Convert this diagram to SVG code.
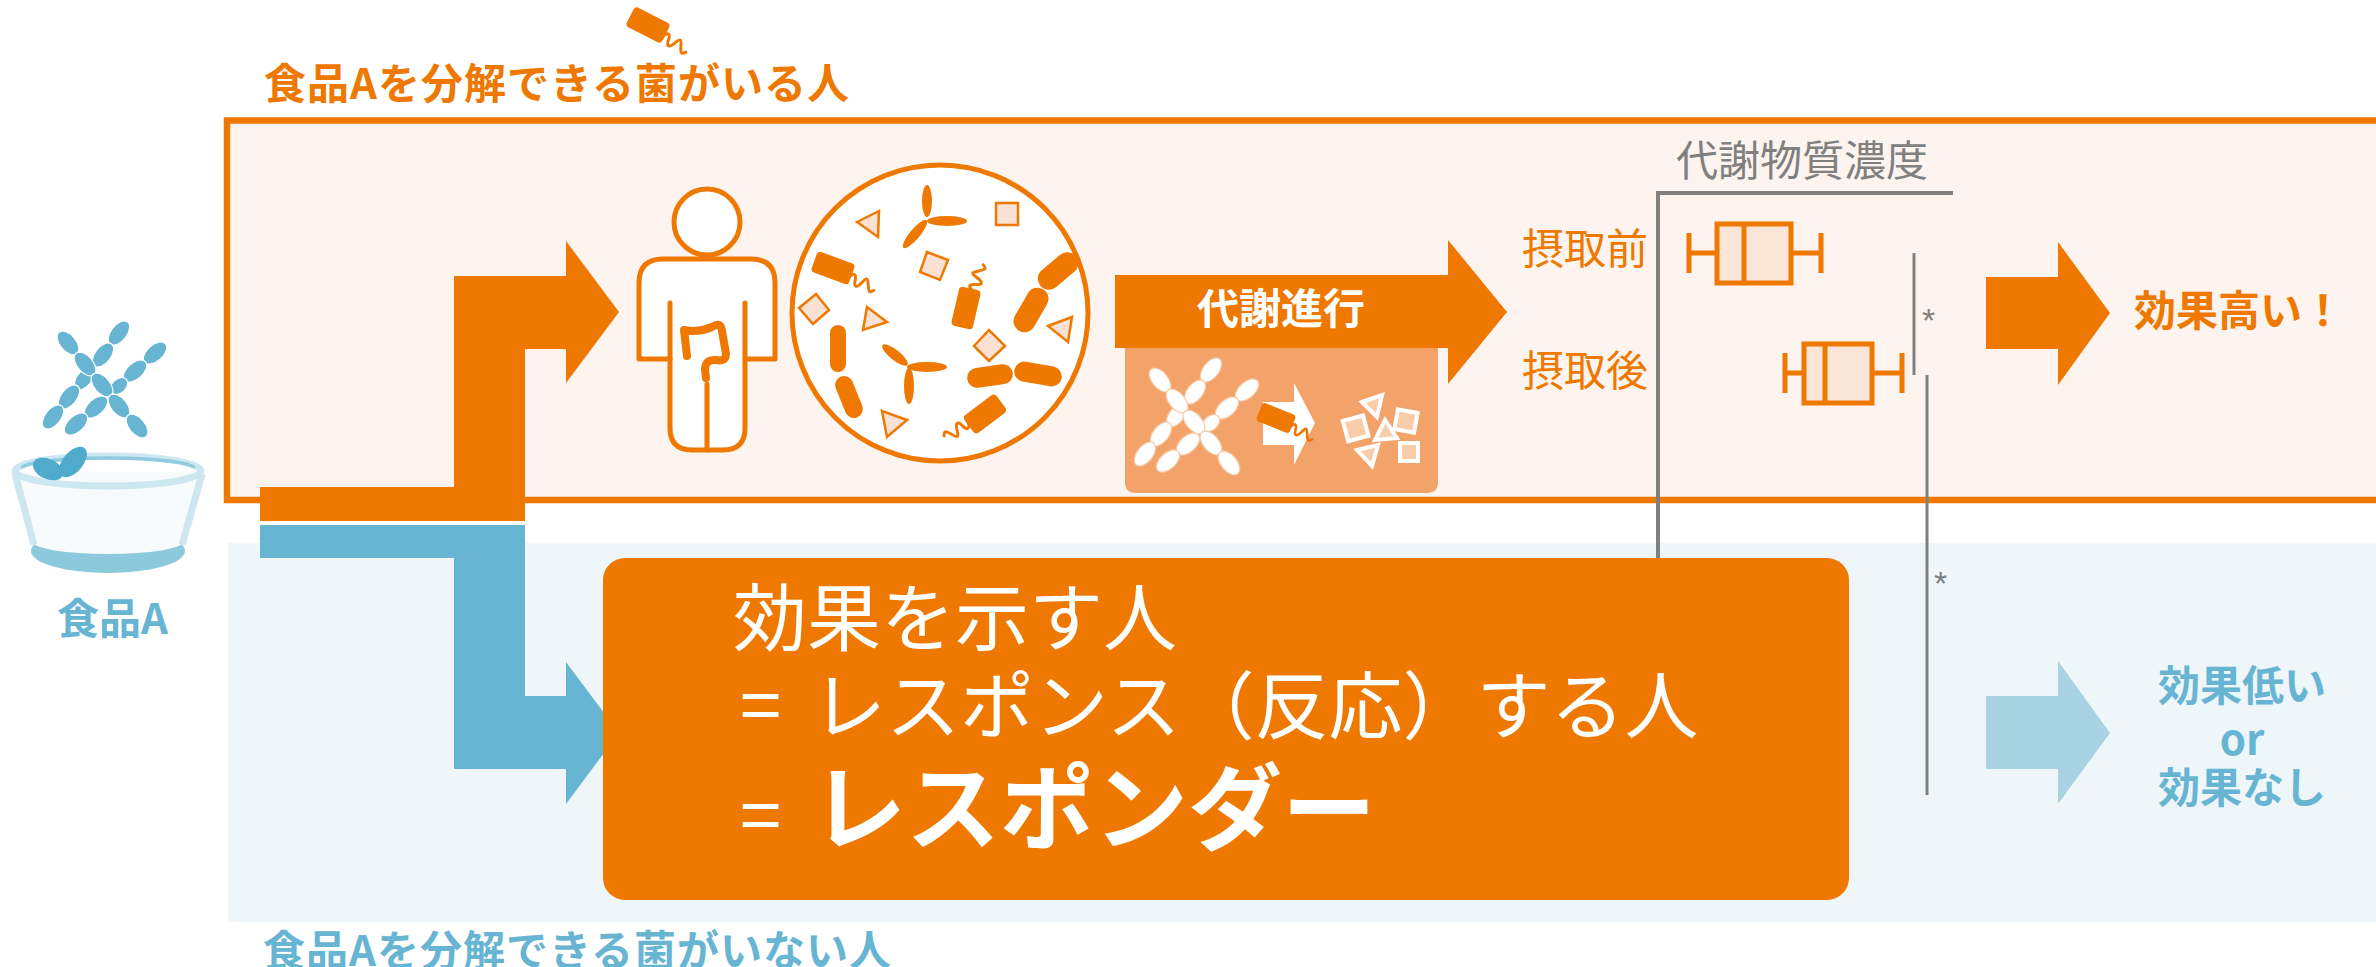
<svg xmlns="http://www.w3.org/2000/svg" xmlns:xlink="http://www.w3.org/1999/xlink" width="2376" height="967" viewBox="0 0 2376 967">
<style>
.jp{font-family:"Noto Sans CJK JP","Noto Sans",sans-serif}
.b{font-weight:700}
.or{fill:#EE7800}
.bl{fill:#67B5D3}
.gr{fill:#808080}
.wt{fill:#ffffff}
.frag{fill:#FBE1D3;stroke:#EE7800;stroke-width:2.5}
.wfrag{fill:#F9CDAA;stroke:#ffffff;stroke-width:4}
.axis{fill:none;stroke:#808080}
.bp{fill:#FBE5D6;stroke:#EE7800;stroke-width:5}
.wh{fill:none;stroke:#EE7800;stroke-width:5}
.sig{font-family:"Liberation Sans",Arial,sans-serif;font-size:34px;fill:#808080}
</style>
<defs>
  <!-- branched molecule: three chains of linked ellipses -->
  <g id="xmol">
    <ellipse cx="119" cy="333" rx="14" ry="8" transform="rotate(128 119 333)"/>
    <ellipse cx="103" cy="355" rx="14" ry="8" transform="rotate(128 103 355)"/>
    <ellipse cx="84" cy="379" rx="12" ry="7.5" transform="rotate(128 84 379)"/>
    <ellipse cx="69" cy="397" rx="14" ry="8" transform="rotate(128 69 397)"/>
    <ellipse cx="53" cy="417" rx="14" ry="8" transform="rotate(128 53 417)"/>
    <ellipse cx="155" cy="353" rx="14" ry="8" transform="rotate(138 155 353)"/>
    <ellipse cx="135" cy="371" rx="14" ry="8" transform="rotate(138 135 371)"/>
    <ellipse cx="119" cy="386" rx="10" ry="7" transform="rotate(138 119 386)"/>
    <ellipse cx="96" cy="407" rx="14" ry="8" transform="rotate(138 96 407)"/>
    <ellipse cx="76" cy="424" rx="14" ry="8" transform="rotate(138 76 424)"/>
    <ellipse cx="68" cy="343" rx="14" ry="8" transform="rotate(50 68 343)"/>
    <ellipse cx="85" cy="364" rx="14" ry="8" transform="rotate(50 85 364)"/>
    <ellipse cx="102" cy="385" rx="14" ry="8" transform="rotate(50 102 385)"/>
    <ellipse cx="119" cy="406" rx="14" ry="8" transform="rotate(50 119 406)"/>
    <ellipse cx="137" cy="426" rx="14" ry="8" transform="rotate(50 137 426)"/>
  </g>
  <!-- flagellated bacterium, body centred on the origin -->
  <g id="flag">
    <rect x="-20" y="-11" width="40" height="22" rx="4" stroke="none"/>
    <path d="M18 4 c3 -7 6 -7 7 0 s4 7 7 0 s4 -7 7 0 s4 7 7 3" fill="none" stroke-width="3" stroke-linecap="round"/>
  </g>
</defs>

<!-- group backgrounds -->
<g id="group-responder">
  <rect x="227" y="120.5" width="2200" height="379.5" fill="#FDF4EF" stroke="#EE7800" stroke-width="6.5"/>
</g>
<g id="group-nonresponder">
  <rect x="228" y="543" width="2160" height="379" fill="#EEF6FA"/>
</g>

<!-- top / bottom captions -->
<g id="caption-top">
  <use xlink:href="#flag" href="#flag" fill="#EE7800" stroke="#EE7800" transform="translate(648 25) rotate(27)"/>
  <text class="jp b or" x="264" y="99" font-size="42" letter-spacing="1">食品Aを分解できる菌がいる人</text>
</g>
<g id="caption-bottom">
  <text class="jp b bl" x="263" y="966" font-size="42" letter-spacing="1">食品Aを分解できる菌がいない人</text>
</g>

<!-- food A: molecule over a cup -->
<g id="food-a">
  <use xlink:href="#xmol" href="#xmol" fill="#67B5D3" stroke="#ffffff" stroke-width="1.2"/>
  <ellipse cx="108" cy="551" rx="77" ry="22" fill="#8DC9DD"/>
  <path d="M14 472 L33 542 A75 12 0 0 0 183 542 L203 472 Z" fill="#F8FBFD"/>
  <path d="M15 474 L34 545 M202 474 L182 545" stroke="#CDE7F0" stroke-width="7" fill="none"/>
  <ellipse cx="108" cy="471" rx="93" ry="15" fill="none" stroke="#CDE7F0" stroke-width="7"/>
  <path d="M22 468 A86 10 0 0 1 194 468" fill="none" stroke="#8FCADF" stroke-width="3.5"/>
  <ellipse cx="48" cy="469" rx="16" ry="10" transform="rotate(25 48 469)" fill="#4FAACB"/>
  <ellipse cx="73" cy="462" rx="18" ry="10" transform="rotate(-50 73 462)" fill="#4FAACB"/>
  <text class="jp b bl" x="57" y="634" font-size="42">食品A</text>
</g>

<!-- connectors -->
<g id="connectors">
  <polygon fill="#EE7800" points="260,487 454,487 454,276 566,276 566,241 619,312 566,383 566,349 525,349 525,521 260,521"/>
  <polygon fill="#67B5D3" points="260,525 525,525 525,696 566,696 566,662 619,733 566,804 566,769 454,769 454,558 260,558"/>
  <polygon fill="#EE7800" points="1115,275 1448,275 1448,240 1507,312 1448,384 1448,348 1115,348"/>
  <polygon fill="#EE7800" points="1986,277 2058,277 2058,242 2110,313 2058,385 2058,349 1986,349"/>
  <polygon fill="#A9D3E3" points="1986,696 2058,696 2058,661 2110,733 2058,804 2058,769 1986,769"/>
</g>

<!-- person with gut -->
<g id="person">
  <circle cx="707" cy="222" r="33" fill="#fff" stroke="#EE7800" stroke-width="5"/>
  <path d="M639 359 L639 283 Q639 259 663 259 L751 259 Q775 259 775 283 L775 359 L745 359 L745 428 Q745 450 723 450 L692 450 Q670 450 670 428 L670 359 Z" fill="#fff" stroke="#EE7800" stroke-width="5" stroke-linejoin="round"/>
  <path d="M670 303 L670 359 M745 303 L745 359 M707 384 L707 450" fill="none" stroke="#EE7800" stroke-width="5" stroke-linecap="round"/>
  <path d="M687 356 L684 330 Q698 333 712 327 Q721 321 722 331 L726 354 Q726 362 716 360 Q705 359 705 370 L706 378" fill="none" stroke="#EE7800" stroke-width="8" stroke-linecap="round" stroke-linejoin="round"/>
</g>

<!-- gut microbiome -->
<g id="microbiome">
  <circle cx="940" cy="313" r="148" fill="#fff" stroke="#EE7800" stroke-width="5"/>
  <g class="or">
    <ellipse cx="927" cy="201" rx="5" ry="16"/>
    <ellipse cx="947" cy="221" rx="20" ry="5"/>
    <ellipse cx="915" cy="234" rx="18" ry="5" transform="rotate(-50 915 234)"/>
    <ellipse cx="895" cy="355" rx="16" ry="5" transform="rotate(39 895 355)"/>
    <ellipse cx="927" cy="367" rx="20" ry="5"/>
    <ellipse cx="909" cy="386" rx="5" ry="18"/>
    <rect x="-23" y="-11" width="46" height="22" rx="11" transform="translate(1058 271) rotate(-40)"/>
    <rect x="-24" y="-11" width="48" height="22" rx="11" transform="translate(1031 310) rotate(-60)"/>
    <rect x="830" y="325" width="16" height="47" rx="8"/>
    <rect x="-22" y="-9" width="44" height="18" rx="9" transform="translate(849 397) rotate(68)"/>
    <rect x="-23" y="-10" width="46" height="20" rx="10" transform="translate(990 376) rotate(-8)"/>
    <rect x="-24" y="-10" width="48" height="20" rx="10" transform="translate(1038 374) rotate(10)"/>
  </g>
  <use xlink:href="#flag" href="#flag" fill="#EE7800" stroke="#EE7800" transform="translate(833 268) rotate(20)"/>
  <use xlink:href="#flag" href="#flag" fill="#EE7800" stroke="#EE7800" transform="translate(966 308) rotate(-77)"/>
  <use xlink:href="#flag" href="#flag" fill="#EE7800" stroke="#EE7800" transform="translate(985 414) rotate(143)"/>
  <rect class="frag" x="996" y="203" width="22" height="22"/>
  <polygon class="frag" points="857,222 879,211 878,237"/>
  <polygon class="frag" points="927,252 948,260 940,280 920,272"/>
  <polygon class="frag" points="799,308 816,294 829,310 813,324"/>
  <polygon class="frag" points="863,330 867,307 887,322"/>
  <polygon class="frag" points="1048,326 1072,317 1068,342"/>
  <polygon class="frag" points="974,346 989,330 1005,346 989,361"/>
  <polygon class="frag" points="882,411 907,420 887,437"/>
</g>

<!-- metabolism step -->
<g id="metabolism">
  <text class="jp b wt" x="1281" y="324" font-size="42" text-anchor="middle">代謝進行</text>
  <path d="M1125 348 H1438 V482 Q1438 493 1427 493 H1136 Q1125 493 1125 482 Z" fill="#F3A26A"/>
  <use xlink:href="#xmol" href="#xmol" fill="#ffffff" stroke="#F7C9A6" stroke-width="1.2" transform="translate(1092 37)"/>
  <polygon fill="#ffffff" points="1263,402 1294,402 1294,383 1315,423 1294,465 1294,445 1263,445"/>
  <use xlink:href="#flag" href="#flag" fill="#EE7800" stroke="#EE7800" transform="translate(1276 418) rotate(22) scale(0.9)"/>
  <polygon class="wfrag" points="1362,402 1382,395 1377,417"/>
  <rect class="wfrag" x="1345" y="418" width="21" height="21" transform="rotate(-15 1355 428)"/>
  <polygon class="wfrag" points="1375,440 1385,420 1397,438"/>
  <rect class="wfrag" x="1396" y="411" width="20" height="20" transform="rotate(10 1406 421)"/>
  <polygon class="wfrag" points="1357,450 1378,445 1372,466"/>
  <rect class="wfrag" x="1400" y="443" width="18" height="18"/>
</g>

<!-- metabolite concentration chart -->
<g id="chart">
  <text class="jp gr" x="1676" y="176" font-size="42">代謝物質濃度</text>
  <path class="axis" d="M1953 193 L1658 193 L1658 560" stroke-width="4"/>
  <text class="jp or" x="1522" y="264" font-size="42">摂取前</text>
  <text class="jp or" x="1522" y="386" font-size="42">摂取後</text>
  <path class="wh" d="M1689 253 H1717 M1791 253 H1821 M1689 233 V273 M1821 233 V273"/>
  <rect class="bp" x="1717" y="224" width="74" height="59"/>
  <path class="wh" d="M1744 224 V283"/>
  <path class="wh" d="M1785 373 H1804 M1872 373 H1902 M1785 353 V393 M1902 353 V393"/>
  <rect class="bp" x="1804" y="344" width="68" height="59"/>
  <path class="wh" d="M1825 344 V403"/>
  <path class="axis" d="M1914 253 V375 M1927 375 V795" stroke-width="3"/>
  <text class="sig" x="1922" y="332">*</text>
  <text class="sig" x="1934" y="595">*</text>
</g>

<!-- outcomes -->
<g id="result-high">
  <text class="jp b or" x="2134" y="326" font-size="42">効果高い！</text>
</g>
<g id="result-low">
  <text class="jp b bl" x="2242" y="701" font-size="42" text-anchor="middle">効果低い</text>
  <text class="jp b bl" x="2242" y="755" font-size="42" text-anchor="middle">or</text>
  <text class="jp b bl" x="2242" y="803" font-size="42" text-anchor="middle">効果なし</text>
</g>

<!-- responder definition -->
<g id="responder-box">
  <rect x="603" y="558" width="1246" height="342" rx="22" fill="#EE7800"/>
  <text class="jp wt" x="733" y="645" font-size="74">効果を示す人</text>
  <text class="jp wt" x="740" y="733" font-size="74">=</text>
  <text class="jp wt" x="812" y="733" font-size="74">レスポンス（反応）する人</text>
  <text class="jp wt" x="740" y="843" font-size="74">=</text>
  <text class="jp wt b" x="812" y="843" font-size="94">レスポンダー</text>
</g>
</svg>
